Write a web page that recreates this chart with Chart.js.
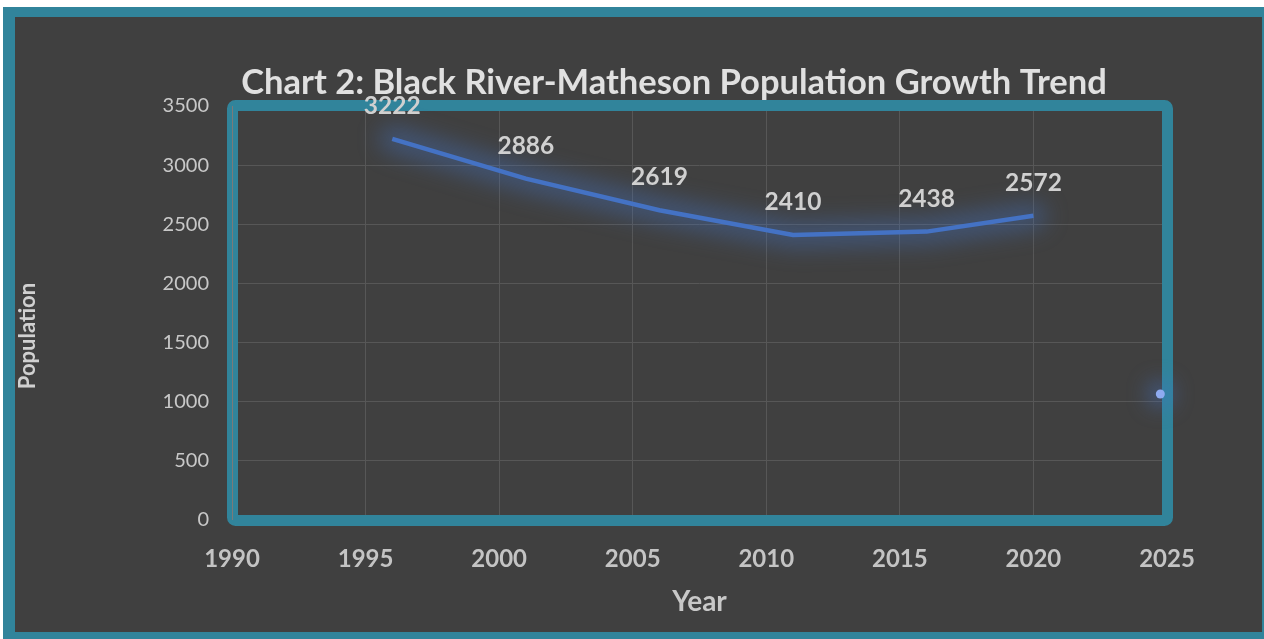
<!DOCTYPE html>
<html>
<head>
<meta charset="utf-8">
<title>Black River-Matheson Population Growth Trend</title>
<script src="https://cdn.jsdelivr.net/npm/chart.js@4.4.1/dist/chart.umd.min.js"></script>
<style>
  html, body { margin: 0; padding: 0; background: #ffffff; }
  #wrap { position: absolute; left: 0; top: 0; width: 1264px; height: 639px; }
</style>
</head>
<body>
<div id="wrap"><canvas id="popChart"></canvas></div>
<script>
// census years and population
const years = [1996, 2001, 2006, 2011, 2016, 2020];
const population = [3222, 2886, 2619, 2410, 2438, 2572];
// lone marker that sits on the right edge
const strayYear = [2024.75];
const strayValue = [1065];
const xTicks = [1990, 1995, 2000, 2005, 2010, 2015, 2020, 2025];
const yTicks = [0, 500, 1000, 1500, 2000, 2500, 3000, 3500];
const chartTitle = 'Chart 2: Black River-Matheson Population Growth Trend';

const TEAL = '#31849b';
const BG = '#404040';
const FONT = 'Lato, "Open Sans", sans-serif';

document.addEventListener('DOMContentLoaded', function() {

    // frame, teal plot box, glow, data labels, titles
    const framePlugin = {
        id: 'frame',
        beforeDraw(chart) {
            const ctx = chart.ctx;
            ctx.save();
            ctx.fillStyle = '#ffffff';
            ctx.fillRect(0, 0, chart.width, chart.height);
            ctx.fillStyle = TEAL;
            ctx.fillRect(3, 7, chart.width - 3, chart.height - 7);
            ctx.fillStyle = BG;
            ctx.fillRect(15, 17, 1247, 615);
            // chart title (Excel centres it on the whole figure)
            ctx.font = 'bold 34.5px ' + FONT;
            ctx.fillStyle = '#e0e0e0';
            ctx.textAlign = 'center';
            ctx.textBaseline = 'middle';
            ctx.fillText(chartTitle, 674, 83);
            ctx.restore();
        },
        beforeDatasetsDraw(chart) {
            const ctx = chart.ctx;
            const a = chart.chartArea;
            ctx.save();
            ctx.strokeStyle = TEAL;
            ctx.lineWidth = 11;
            ctx.lineJoin = 'round';
            ctx.beginPath();
            ctx.roundRect(a.left + 0.5, a.top - 0.5, a.right - a.left, a.bottom - a.top + 1, 3);
            ctx.stroke();
            // grey axis line shows through the teal
            ctx.strokeStyle = '#7a7a7a';
            ctx.lineWidth = 1;
            ctx.beginPath();
            ctx.moveTo(a.left + 0.5, a.top);
            ctx.lineTo(a.left + 0.5, a.bottom);
            ctx.stroke();
            ctx.restore();
        },
        beforeDatasetDraw(chart, args) {
            const ctx = chart.ctx;
            const pts = chart.getDatasetMeta(args.index).data;
            ctx.save();
            ctx.filter = 'blur(11px)';
            if (args.index === 0) {
                ctx.strokeStyle = 'rgba(68, 114, 196, 0.4)';
                ctx.lineWidth = 26;
                ctx.lineJoin = 'round';
                ctx.lineCap = 'round';
                ctx.beginPath();
                pts.forEach((p, i) => i ? ctx.lineTo(p.x, p.y) : ctx.moveTo(p.x, p.y));
                ctx.stroke();
            } else {
                ctx.fillStyle = 'rgba(68, 114, 196, 0.7)';
                pts.forEach(p => {
                    ctx.beginPath();
                    ctx.arc(p.x, p.y, 11, 0, Math.PI * 2);
                    ctx.fill();
                });
            }
            ctx.restore();
        },
        afterDatasetsDraw(chart) {
            const ctx = chart.ctx;
            const meta = chart.getDatasetMeta(0);
            ctx.save();
            ctx.font = 'bold 24.5px ' + FONT;
            ctx.fillStyle = '#d0d0d0';
            ctx.textAlign = 'center';
            ctx.textBaseline = 'middle';
            meta.data.forEach((pt, i) => {
                ctx.fillText(String(population[i]), pt.x, pt.y - 33);
            });
            // y axis title
            ctx.translate(28, 336);
            ctx.rotate(-Math.PI / 2);
            ctx.font = 'bold 22px ' + FONT;
            ctx.fillStyle = '#d0d0d0';
            ctx.fillText('Population', 0, 0);
            ctx.restore();
        }
    };

    const ctxPop = document.getElementById('popChart').getContext('2d');
    new Chart(ctxPop, {
        type: 'line',
        data: {
            datasets: [{
                label: 'Population',
                data: years.map((y, i) => ({ x: y, y: population[i] })),
                borderColor: '#4472c4',
                borderWidth: 4.5,
                pointRadius: 0,
                tension: 0,
                fill: false
            }, {
                label: 'Marker',
                data: strayYear.map((y, i) => ({ x: y, y: strayValue[i] })),
                showLine: false,
                clip: false,
                pointRadius: 4.5,
                pointBackgroundColor: '#8eaaf0',
                pointBorderWidth: 0
            }]
        },
        options: {
            responsive: true,
            maintainAspectRatio: false,
            animation: false,
            layout: { padding: { left: 0, right: 97, top: 106, bottom: 0 } },
            plugins: {
                legend: { display: false },
                tooltip: { enabled: false },
                title: { display: false }
            },
            scales: {
                x: {
                    type: 'linear',
                    min: xTicks[0],
                    max: xTicks[xTicks.length - 1],
                    afterBuildTicks: s => { s.ticks = xTicks.map(v => ({ value: v })); },
                    afterFit: s => { s.height = 119; },
                    grid: { color: '#575757', lineWidth: 1, drawTicks: false },
                    border: { display: false },
                    ticks: {
                        padding: 25,
                        color: '#c4c4c4',
                        font: { family: FONT, size: 24, weight: 'bold' },
                        callback: v => String(v)
                    },
                    title: {
                        display: true,
                        text: 'Year',
                        color: '#c8c8c8',
                        font: { family: FONT, size: 28, weight: 'bold', lineHeight: 1.2 },
                        padding: { top: 0, bottom: 20 }
                    }
                },
                y: {
                    min: yTicks[0],
                    max: yTicks[yTicks.length - 1],
                    afterBuildTicks: s => { s.ticks = yTicks.map(v => ({ value: v })); },
                    afterFit: s => { s.width = 232; },
                    grid: { color: '#575757', lineWidth: 1, drawTicks: false },
                    border: { display: false },
                    ticks: {
                        padding: 23,
                        color: '#c8c8c8',
                        font: { family: FONT, size: 20 },
                        callback: v => String(v)
                    }
                }
            }
        },
        plugins: [framePlugin]
    });
});
</script>
</body>
</html>
